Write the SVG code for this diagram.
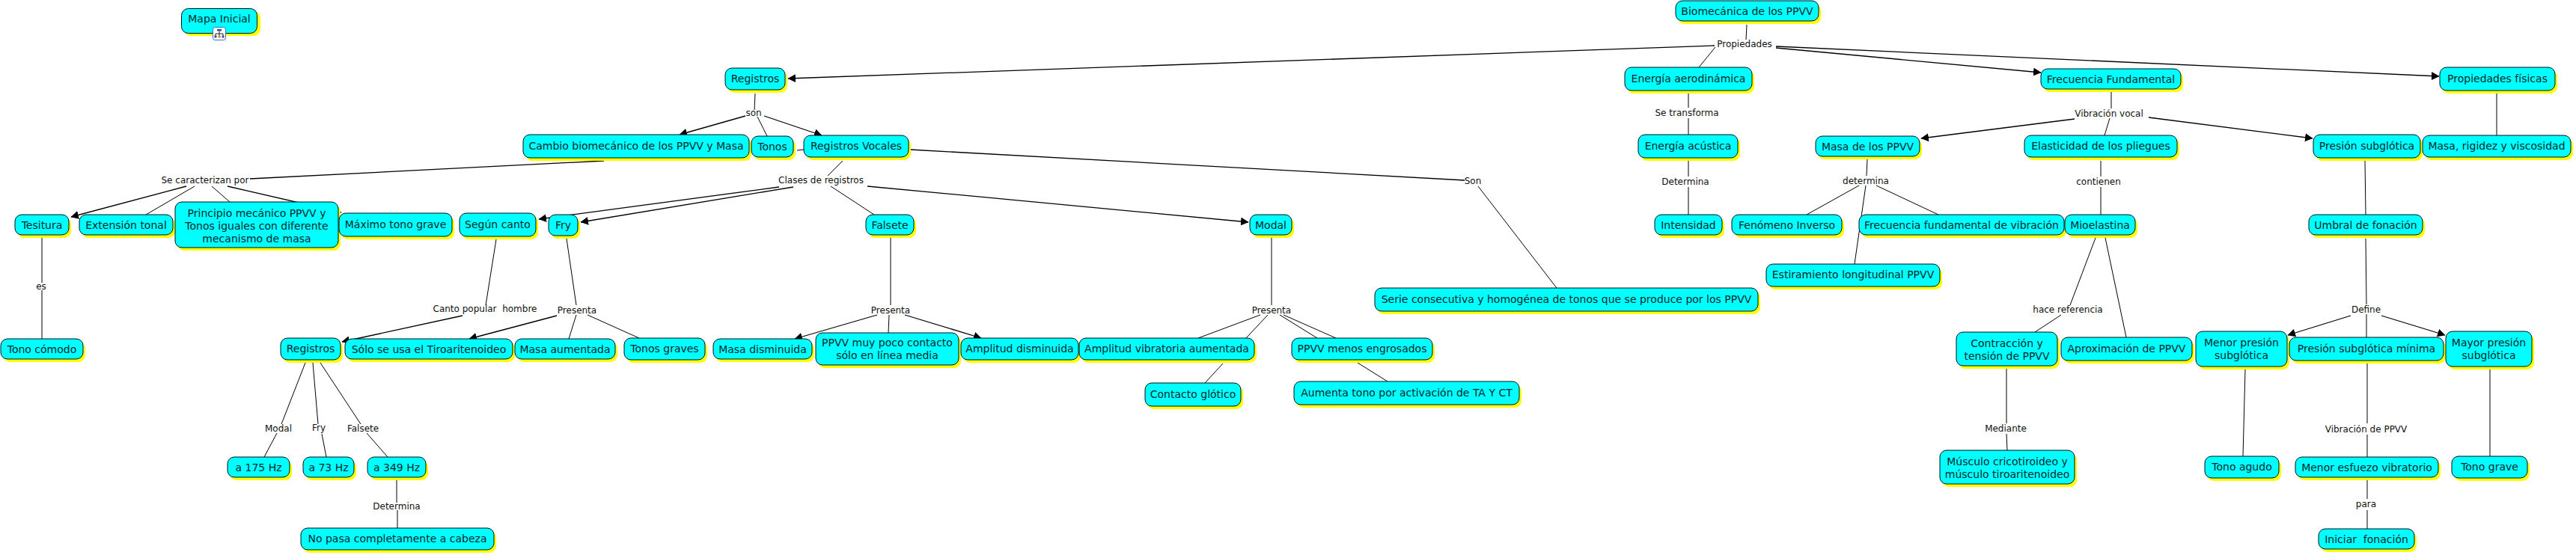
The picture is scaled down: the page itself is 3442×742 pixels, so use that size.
<svg xmlns="http://www.w3.org/2000/svg" width="3442" height="742" viewBox="0 0 3442 742">
<style>
.s{fill:#ffff00;stroke:none}
.b{fill:#00ffff;stroke:#001014;stroke-width:1}
text{font-family:"DejaVu Sans","Liberation Sans",sans-serif;text-anchor:middle;fill:#00282e}
.t{font-size:14px}
.l{font-size:12px;fill:#111}
.c line{stroke:#000;stroke-width:1}
.c line.m{stroke-width:1.3}
.c line.a{stroke-width:1.3;marker-end:url(#ah)}
</style>
<defs>
<marker id="ah" markerUnits="userSpaceOnUse" markerWidth="12" markerHeight="12" refX="10" refY="5.500" orient="auto"><path d="M0 0L10.500 5.500L0 11Z" fill="#000"/></marker>
</defs>
<rect width="3442" height="742" fill="#fff"/>
<g id="connectors" class="c">
<line x1="2334" y1="33" x2="2333" y2="53"/>
<line class="a" x1="2291" y1="61" x2="1053" y2="105"/>
<line x1="2292" y1="63" x2="2270" y2="90"/>
<line class="a" x1="2373" y1="64" x2="2727" y2="97"/>
<line class="a" x1="2373" y1="62" x2="3259" y2="102"/>
<line x1="2821" y1="123" x2="2821" y2="145"/>
<line class="a" x1="2772" y1="159" x2="2567" y2="185"/>
<line x1="2819" y1="158" x2="2812" y2="181"/>
<line class="a" x1="2871" y1="157" x2="3090" y2="185"/>
<line x1="3336" y1="125" x2="3336" y2="181"/>
<line x1="2256" y1="125" x2="2256" y2="144"/>
<line x1="2256" y1="158" x2="2256" y2="181"/>
<line x1="2256" y1="215" x2="2256" y2="236"/>
<line x1="2256" y1="250" x2="2256" y2="287"/>
<line x1="2495" y1="213" x2="2494" y2="235"/>
<line x1="2484" y1="248" x2="2414" y2="287"/>
<line x1="2507" y1="248" x2="2590" y2="287"/>
<line x1="2493" y1="248" x2="2478" y2="353"/>
<line x1="2807" y1="215" x2="2807" y2="236"/>
<line x1="2807" y1="250" x2="2807" y2="287"/>
<line x1="3160" y1="215" x2="3161" y2="287"/>
<line x1="3161" y1="319" x2="3162" y2="407"/>
<line class="a" x1="3141" y1="422" x2="3057" y2="448"/>
<line x1="3162" y1="420" x2="3162" y2="451"/>
<line class="a" x1="3182" y1="422" x2="3267" y2="448"/>
<line x1="3163" y1="486" x2="3163" y2="566"/>
<line x1="3163" y1="581" x2="3163" y2="611"/>
<line x1="3163" y1="642" x2="3163" y2="667"/>
<line x1="3163" y1="682" x2="3163" y2="707"/>
<line x1="3000" y1="494" x2="2997" y2="610"/>
<line x1="3327" y1="494" x2="3327" y2="610"/>
<line x1="2800" y1="318" x2="2766" y2="408"/>
<line x1="2754" y1="421" x2="2719" y2="444"/>
<line x1="2813" y1="318" x2="2841" y2="451"/>
<line x1="2681" y1="493" x2="2681" y2="566"/>
<line x1="2681" y1="580" x2="2682" y2="602"/>
<line x1="1009" y1="125" x2="1008" y2="147"/>
<line class="a" x1="996" y1="155" x2="908" y2="180"/>
<line x1="1012" y1="156" x2="1025" y2="182"/>
<line class="a" x1="1021" y1="155" x2="1098" y2="181"/>
<line x1="1065" y1="201" x2="1074" y2="200"/>
<line class="m" x1="807" y1="215" x2="334" y2="239"/>
<line class="a" x1="249" y1="249" x2="95" y2="290"/>
<line x1="260" y1="249" x2="195" y2="287"/>
<line x1="283" y1="249" x2="307" y2="270"/>
<line class="a" x1="304" y1="249" x2="456" y2="284"/>
<line class="a" x1="1041" y1="250" x2="720" y2="293"/>
<line class="a" x1="1060" y1="250" x2="776" y2="297"/>
<line x1="1126" y1="215" x2="1106" y2="235"/>
<line x1="1110" y1="249" x2="1168" y2="287"/>
<line class="a" x1="1159" y1="249" x2="1668" y2="297"/>
<line class="m" x1="1216" y1="200" x2="1957" y2="241"/>
<line x1="1975" y1="249" x2="2080" y2="385"/>
<line x1="1190" y1="318" x2="1190" y2="408"/>
<line class="a" x1="1172" y1="421" x2="1062" y2="453"/>
<line x1="1188" y1="421" x2="1187" y2="445"/>
<line class="a" x1="1209" y1="421" x2="1311" y2="452"/>
<line x1="1699" y1="318" x2="1699" y2="408"/>
<line x1="1684" y1="421" x2="1601" y2="452"/>
<line x1="1694" y1="421" x2="1665" y2="452"/>
<line x1="1710" y1="421" x2="1760" y2="452"/>
<line x1="1715" y1="421" x2="1785" y2="452"/>
<line x1="1634" y1="486" x2="1610" y2="512"/>
<line x1="1814" y1="485" x2="1854" y2="510"/>
<line x1="663" y1="320" x2="649" y2="408"/>
<line class="a" x1="618" y1="422" x2="457" y2="457"/>
<line x1="757" y1="319" x2="770" y2="408"/>
<line class="a" x1="744" y1="422" x2="627" y2="453"/>
<line x1="770" y1="421" x2="760" y2="453"/>
<line x1="785" y1="421" x2="854" y2="452"/>
<line x1="56" y1="318" x2="56" y2="378"/>
<line x1="56" y1="388" x2="56" y2="453"/>
<line x1="408" y1="485" x2="376" y2="567"/>
<line x1="370" y1="579" x2="353" y2="611"/>
<line x1="418" y1="485" x2="425" y2="567"/>
<line x1="430" y1="580" x2="436" y2="611"/>
<line x1="428" y1="485" x2="482" y2="567"/>
<line x1="490" y1="579" x2="518" y2="611"/>
<line x1="530" y1="642" x2="530" y2="672"/>
<line x1="531" y1="682" x2="531" y2="706"/>
</g>
<g id="labels">
<text class="l" x="2331" y="63">Propiedades</text>
<text class="l" x="2818" y="156">Vibración vocal</text>
<text class="l" x="2254" y="155">Se transforma</text>
<text class="l" x="2252" y="247">Determina</text>
<text class="l" x="2493" y="246">determina</text>
<text class="l" x="2804" y="247">contienen</text>
<text class="l" x="3161.500" y="418">Define</text>
<text class="l" x="3161.500" y="578">Vibración de PPVV</text>
<text class="l" x="3161.500" y="678">para</text>
<text class="l" x="2763" y="418">hace referencia</text>
<text class="l" x="2680" y="577">Mediante</text>
<text class="l" x="1007" y="155">son</text>
<text class="l" x="274" y="245">Se caracterizan por</text>
<text class="l" x="1097" y="245">Clases de registros</text>
<text class="l" x="1968" y="246">Son</text>
<text class="l" x="1190" y="419">Presenta</text>
<text class="l" x="1699" y="419">Presenta</text>
<text class="l" x="648" y="417" xml:space="preserve">Canto popular  hombre</text>
<text class="l" x="771" y="419">Presenta</text>
<text class="l" x="55" y="387">es</text>
<text class="l" x="372" y="577">Modal</text>
<text class="l" x="426" y="576">Fry</text>
<text class="l" x="485" y="577">Falsete</text>
<text class="l" x="530" y="681">Determina</text>
</g>
<g id="n1"><rect class="s" x="246" y="15" width="102" height="33" rx="9"/><rect class="b" x="242.500" y="11.500" width="101" height="33" rx="9"/><text class="t" x="293" y="30">Mapa Inicial</text>
<rect x="284.500" y="36.500" width="17" height="17" rx="3" fill="#fff" stroke="#3a6fc4"/><rect x="290" y="39" width="6" height="2.500" fill="#2a4fa8"/><path d="M293 41.500V45M288 48V45H298V48M293 45V48" fill="none" stroke="#222"/><rect x="286.500" y="47.500" width="3" height="3" fill="#2a4fa8"/><rect x="291.500" y="47.500" width="3" height="3" fill="#d08030"/><rect x="296.500" y="47.500" width="3" height="3" fill="#2a4fa8"/></g>
<g id="n2"><rect class="s" x="972" y="95" width="80" height="29" rx="9"/><rect class="b" x="969" y="91" width="80" height="29" rx="9"/><text class="t" x="1009" y="110">Registros</text></g>
<g id="n3"><rect class="s" x="702" y="184" width="302" height="31" rx="9"/><rect class="b" x="699" y="180" width="302" height="31" rx="9"/><text class="t" x="850" y="200">Cambio biomecánico de los PPVV y Masa</text></g>
<g id="n4"><rect class="s" x="1007" y="186" width="56" height="28" rx="9"/><rect class="b" x="1004" y="182" width="56" height="28" rx="9"/><text class="t" x="1032" y="201">Tonos</text></g>
<g id="n5"><rect class="s" x="1077" y="185" width="140" height="29" rx="9"/><rect class="b" x="1074" y="181" width="140" height="29" rx="9"/><text class="t" x="1144" y="200">Registros Vocales</text></g>
<g id="n6"><rect class="s" x="23" y="291" width="72" height="27" rx="9"/><rect class="b" x="20" y="287" width="72" height="27" rx="9"/><text class="t" x="56" y="306">Tesitura</text></g>
<g id="n7"><rect class="s" x="109" y="291" width="125" height="27" rx="9"/><rect class="b" x="106" y="287" width="125" height="27" rx="9"/><text class="t" x="168.500" y="306">Extensión tonal</text></g>
<g id="n8"><rect class="s" x="237" y="274" width="218" height="61" rx="9"/><rect class="b" x="234" y="270" width="218" height="61" rx="9"/><text class="t" x="343" y="290">Principio mecánico PPVV y</text><text class="t" x="343" y="307">Tonos iguales con diferente</text><text class="t" x="343" y="324">mecanismo de masa</text></g>
<g id="n9"><rect class="s" x="456" y="289" width="151" height="31" rx="9"/><rect class="b" x="453" y="285" width="151" height="31" rx="9"/><text class="t" x="528.500" y="305">Máximo tono grave</text></g>
<g id="n10"><rect class="s" x="617" y="289" width="102" height="31" rx="9"/><rect class="b" x="614" y="285" width="102" height="31" rx="9"/><text class="t" x="665" y="305">Según canto</text></g>
<g id="n11"><rect class="s" x="736" y="291" width="39" height="28" rx="9"/><rect class="b" x="733" y="287" width="39" height="28" rx="9"/><text class="t" x="752.500" y="306">Fry</text></g>
<g id="n12"><rect class="s" x="4" y="457" width="110" height="27" rx="9"/><rect class="b" x="1" y="453" width="110" height="27" rx="9"/><text class="t" x="56" y="472">Tono cómodo</text></g>
<g id="n13"><rect class="s" x="378" y="456" width="80" height="29" rx="9"/><rect class="b" x="375" y="452" width="80" height="29" rx="9"/><text class="t" x="415" y="471">Registros</text></g>
<g id="n14"><rect class="s" x="464" y="457" width="224" height="27" rx="9"/><rect class="b" x="461" y="453" width="224" height="27" rx="9"/><text class="t" x="573" y="472">Sólo se usa el Tiroaritenoideo</text></g>
<g id="n15"><rect class="s" x="691" y="457" width="134" height="27" rx="9"/><rect class="b" x="688" y="453" width="134" height="27" rx="9"/><text class="t" x="755" y="472">Masa aumentada</text></g>
<g id="n16"><rect class="s" x="837" y="456" width="108" height="29" rx="9"/><rect class="b" x="834" y="452" width="108" height="29" rx="9"/><text class="t" x="888" y="471">Tonos graves</text></g>
<g id="n17"><rect class="s" x="956" y="457" width="132" height="27" rx="9"/><rect class="b" x="953" y="453" width="132" height="27" rx="9"/><text class="t" x="1019" y="472">Masa disminuida</text></g>
<g id="n18"><rect class="s" x="1093" y="449" width="191" height="43" rx="9"/><rect class="b" x="1090" y="445" width="191" height="43" rx="9"/><text class="t" x="1185.500" y="463">PPVV muy poco contacto</text><text class="t" x="1185.500" y="480">sólo en línea media</text></g>
<g id="n19"><rect class="s" x="307" y="615" width="83" height="27" rx="9"/><rect class="b" x="304" y="611" width="83" height="27" rx="9"/><text class="t" x="345.500" y="630">a 175 Hz</text></g>
<g id="n20"><rect class="s" x="408" y="615" width="68" height="27" rx="9"/><rect class="b" x="405" y="611" width="68" height="27" rx="9"/><text class="t" x="439" y="630">a 73 Hz</text></g>
<g id="n21"><rect class="s" x="494" y="615" width="78" height="27" rx="9"/><rect class="b" x="491" y="611" width="78" height="27" rx="9"/><text class="t" x="530" y="630">a 349 Hz</text></g>
<g id="n22"><rect class="s" x="405" y="710" width="258" height="29" rx="9"/><rect class="b" x="402" y="706" width="258" height="29" rx="9"/><text class="t" x="531" y="725">No pasa completamente a cabeza</text></g>
<g id="n23"><rect class="s" x="1160" y="291" width="64" height="27" rx="9"/><rect class="b" x="1157" y="287" width="64" height="27" rx="9"/><text class="t" x="1189" y="306">Falsete</text></g>
<g id="n24"><rect class="s" x="1673" y="291" width="56" height="27" rx="9"/><rect class="b" x="1670" y="287" width="56" height="27" rx="9"/><text class="t" x="1698" y="306">Modal</text></g>
<g id="n25"><rect class="s" x="1840" y="389" width="512" height="31" rx="9"/><rect class="b" x="1837" y="385" width="512" height="31" rx="9"/><text class="t" x="2093" y="405">Serie consecutiva y homogénea de tonos que se produce por los PPVV</text></g>
<g id="n26"><rect class="s" x="1287" y="456" width="157" height="29" rx="9"/><rect class="b" x="1284" y="452" width="157" height="29" rx="9"/><text class="t" x="1362.500" y="471">Amplitud disminuida</text></g>
<g id="n27"><rect class="s" x="1445" y="456" width="234" height="29" rx="9"/><rect class="b" x="1442" y="452" width="234" height="29" rx="9"/><text class="t" x="1559" y="471">Amplitud vibratoria aumentada</text></g>
<g id="n28"><rect class="s" x="1729" y="456" width="188" height="29" rx="9"/><rect class="b" x="1726" y="452" width="188" height="29" rx="9"/><text class="t" x="1820" y="471">PPVV menos engrosados</text></g>
<g id="n29"><rect class="s" x="1533" y="516" width="128" height="31" rx="9"/><rect class="b" x="1530" y="512" width="128" height="31" rx="9"/><text class="t" x="1594" y="532">Contacto glótico</text></g>
<g id="n30"><rect class="s" x="1732" y="514" width="301" height="31" rx="9"/><rect class="b" x="1729" y="510" width="301" height="31" rx="9"/><text class="t" x="1879.500" y="530">Aumenta tono por activación de TA Y CT</text></g>
<g id="n31"><rect class="s" x="2242" y="5" width="191" height="27" rx="9"/><rect class="b" x="2239" y="1" width="191" height="27" rx="9"/><text class="t" x="2334.500" y="20">Biomecánica de los PPVV</text></g>
<g id="n32"><rect class="s" x="2174" y="94" width="170" height="31" rx="9"/><rect class="b" x="2171" y="90" width="170" height="31" rx="9"/><text class="t" x="2256" y="110">Energía aerodinámica</text></g>
<g id="n33"><rect class="s" x="2730" y="96" width="187" height="27" rx="9"/><rect class="b" x="2727" y="92" width="187" height="27" rx="9"/><text class="t" x="2820.500" y="111">Frecuencia Fundamental</text></g>
<g id="n34"><rect class="s" x="3263" y="94" width="154" height="31" rx="9"/><rect class="b" x="3260" y="90" width="154" height="31" rx="9"/><text class="t" x="3337" y="110">Propiedades físicas</text></g>
<g id="n35"><rect class="s" x="2192" y="184" width="133" height="31" rx="9"/><rect class="b" x="2189" y="180" width="133" height="31" rx="9"/><text class="t" x="2255.500" y="200">Energía acústica</text></g>
<g id="n36"><rect class="s" x="2429" y="186" width="139" height="27" rx="9"/><rect class="b" x="2426" y="182" width="139" height="27" rx="9"/><text class="t" x="2495.500" y="201">Masa de los PPVV</text></g>
<g id="n37"><rect class="s" x="2708" y="185" width="204" height="29" rx="9"/><rect class="b" x="2705" y="181" width="204" height="29" rx="9"/><text class="t" x="2807" y="200">Elasticidad de los pliegues</text></g>
<g id="n38"><rect class="s" x="3094" y="184" width="143" height="31" rx="9"/><rect class="b" x="3091" y="180" width="143" height="31" rx="9"/><text class="t" x="3162.500" y="200">Presión subglótica</text></g>
<g id="n39"><rect class="s" x="3240" y="185" width="198" height="29" rx="9"/><rect class="b" x="3237" y="181" width="198" height="29" rx="9"/><text class="t" x="3336" y="200">Masa, rigidez y viscosidad</text></g>
<g id="n40"><rect class="s" x="2214" y="291" width="90" height="27" rx="9"/><rect class="b" x="2211" y="287" width="90" height="27" rx="9"/><text class="t" x="2256" y="306">Intensidad</text></g>
<g id="n41"><rect class="s" x="2317" y="291" width="147" height="27" rx="9"/><rect class="b" x="2314" y="287" width="147" height="27" rx="9"/><text class="t" x="2387.500" y="306">Fenómeno Inverso</text></g>
<g id="n42"><rect class="s" x="2487" y="291" width="274" height="27" rx="9"/><rect class="b" x="2484" y="287" width="274" height="27" rx="9"/><text class="t" x="2621" y="306">Frecuencia fundamental de vibración</text></g>
<g id="n43"><rect class="s" x="2762" y="291" width="94" height="27" rx="9"/><rect class="b" x="2759" y="287" width="94" height="27" rx="9"/><text class="t" x="2806" y="306">Mioelastina</text></g>
<g id="n44"><rect class="s" x="3088" y="291" width="152" height="27" rx="9"/><rect class="b" x="3085" y="287" width="152" height="27" rx="9"/><text class="t" x="3161" y="306">Umbral de fonación</text></g>
<g id="n45"><rect class="s" x="2363" y="357" width="232" height="30" rx="9"/><rect class="b" x="2360" y="353" width="232" height="30" rx="9"/><text class="t" x="2476" y="372">Estiramiento longitudinal PPVV</text></g>
<g id="n46"><rect class="s" x="2617" y="448" width="135" height="45" rx="9"/><rect class="b" x="2614" y="444" width="135" height="45" rx="9"/><text class="t" x="2681.500" y="464">Contracción y</text><text class="t" x="2681.500" y="481">tensión de PPVV</text></g>
<g id="n47"><rect class="s" x="2757" y="455" width="175" height="31" rx="9"/><rect class="b" x="2754" y="451" width="175" height="31" rx="9"/><text class="t" x="2841.500" y="471">Aproximación de PPVV</text></g>
<g id="n48"><rect class="s" x="2937" y="447" width="122" height="47" rx="9"/><rect class="b" x="2934" y="443" width="122" height="47" rx="9"/><text class="t" x="2995" y="463">Menor presión</text><text class="t" x="2995" y="480">subglótica</text></g>
<g id="n49"><rect class="s" x="3062" y="455" width="206" height="31" rx="9"/><rect class="b" x="3059" y="451" width="206" height="31" rx="9"/><text class="t" x="3162" y="471">Presión subglótica mínima</text></g>
<g id="n50"><rect class="s" x="3271" y="447" width="115" height="47" rx="9"/><rect class="b" x="3268" y="443" width="115" height="47" rx="9"/><text class="t" x="3325.500" y="463">Mayor presión</text><text class="t" x="3325.500" y="480">subglótica</text></g>
<g id="n51"><rect class="s" x="2595" y="606" width="180" height="45" rx="9"/><rect class="b" x="2592" y="602" width="180" height="45" rx="9"/><text class="t" x="2682" y="622">Músculo cricotiroideo y</text><text class="t" x="2682" y="639">músculo tiroaritenoideo</text></g>
<g id="n52"><rect class="s" x="2949" y="614" width="99" height="29" rx="9"/><rect class="b" x="2946" y="610" width="99" height="29" rx="9"/><text class="t" x="2995.500" y="629">Tono agudo</text></g>
<g id="n53"><rect class="s" x="3070" y="615" width="191" height="27" rx="9"/><rect class="b" x="3067" y="611" width="191" height="27" rx="9"/><text class="t" x="3162.500" y="630">Menor esfuezo vibratorio</text></g>
<g id="n54"><rect class="s" x="3279" y="614" width="101" height="29" rx="9"/><rect class="b" x="3276" y="610" width="101" height="29" rx="9"/><text class="t" x="3326.500" y="629">Tono grave</text></g>
<g id="n55"><rect class="s" x="3101" y="711" width="128" height="27" rx="9"/><rect class="b" x="3098" y="707" width="128" height="27" rx="9"/><text class="t" x="3162" y="726" xml:space="preserve">Iniciar  fonación</text></g>
</svg>
